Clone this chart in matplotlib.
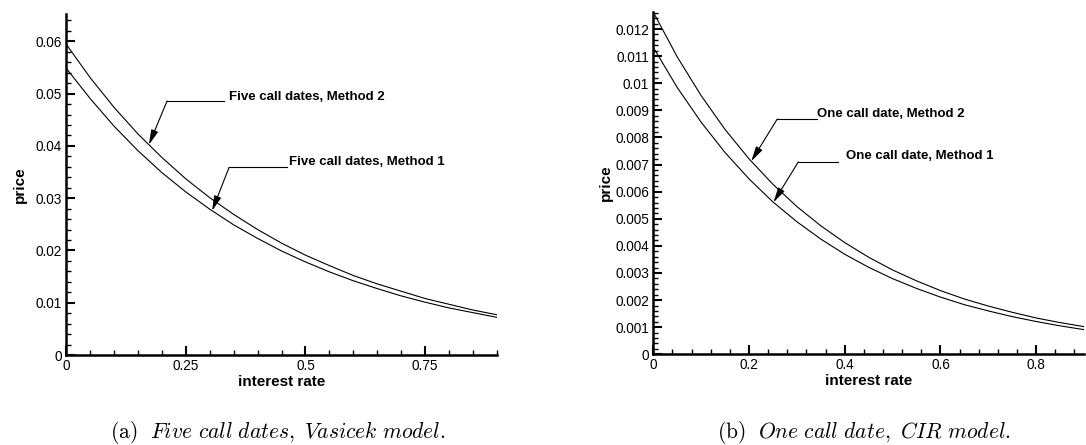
import numpy as np
import matplotlib
matplotlib.use("Agg")
import matplotlib.pyplot as plt
from matplotlib.ticker import MultipleLocator, FormatStrFormatter

plt.rcParams['font.family'] = ['Liberation Sans', 'DejaVu Sans']
plt.rcParams['mathtext.fontset'] = 'cm'

# interest rate grid
rate = [0, 0.05, 0.1, 0.15, 0.2, 0.25, 0.3, 0.35, 0.4, 0.45,
        0.5, 0.55, 0.6, 0.65, 0.7, 0.75, 0.8, 0.85, 0.9]

# (a) five call dates, Vasicek model
vas_m2 = [0.0595, 0.0531, 0.0474, 0.0423, 0.0378, 0.0337, 0.0301, 0.0269, 0.0240, 0.0214,
          0.0191, 0.0171, 0.0152, 0.0136, 0.0122, 0.0108, 0.0097, 0.0086, 0.0077]
vas_m1 = [0.0549, 0.0491, 0.0438, 0.0391, 0.0349, 0.0312, 0.0279, 0.0249, 0.0223, 0.0199,
          0.0178, 0.0159, 0.0142, 0.0127, 0.0113, 0.0101, 0.0090, 0.0081, 0.0072]

# (b) one call date, CIR model
cir_m2 = [0.01262, 0.01097, 0.00954, 0.00829, 0.00721, 0.00627, 0.00545, 0.00474, 0.00412, 0.00358,
          0.00311, 0.00271, 0.00235, 0.00204, 0.00178, 0.00155, 0.00134, 0.00117, 0.00102]
cir_m1 = [0.01132, 0.00984, 0.00856, 0.00744, 0.00647, 0.00562, 0.00489, 0.00425, 0.00369, 0.00321,
          0.00279, 0.00243, 0.00211, 0.00183, 0.00160, 0.00139, 0.00121, 0.00105, 0.00091]

labels_a = ['Five call dates, Method 2', 'Five call dates, Method 1']
labels_b = ['One call date, Method 2', 'One call date, Method 1']
captions = [r'$\mathrm{(a)}\ \ Five\ call\ dates,\ Vasicek\ model.$',
            r'$\mathrm{(b)}\ \ One\ call\ date,\ CIR\ model.$']

fig = plt.figure(figsize=(10.86, 4.45), dpi=100)
ax1 = fig.add_axes([0.0608, 0.2022, 0.3969, 0.766])
ax2 = fig.add_axes([0.6016, 0.2038, 0.3966, 0.770])


def style(ax, ymax, xmaj, xmin, ymaj, ymin, ylabelpad):
    ax.set_xlim(0, 0.9)
    ax.set_ylim(0, ymax)
    for s in ['top', 'right']:
        ax.spines[s].set_visible(False)
    for s in ['left', 'bottom']:
        ax.spines[s].set_linewidth(1.8)
    ax.xaxis.set_major_locator(MultipleLocator(xmaj))
    ax.xaxis.set_minor_locator(MultipleLocator(xmin))
    ax.yaxis.set_major_locator(MultipleLocator(ymaj))
    ax.yaxis.set_minor_locator(MultipleLocator(ymin))
    ax.xaxis.set_major_formatter(FormatStrFormatter('%g'))
    ax.yaxis.set_major_formatter(FormatStrFormatter('%g'))
    ax.tick_params(which='major', direction='in', length=6.5, width=1.5, labelsize=9.8, pad=3)
    ax.tick_params(which='minor', direction='in', length=3.6, width=1.0)
    ax.set_xlabel('interest rate', fontsize=11, fontweight='bold', labelpad=1)
    ax.set_ylabel('price', fontsize=11, fontweight='bold', labelpad=ylabelpad)


def callout(ax, text, xs, ys, tip_x, elbow, line_end, text_pos):
    tip = (tip_x, np.interp(tip_x, xs, ys))
    ax.plot([elbow[0], line_end], [elbow[1], elbow[1]], color='black', lw=0.8)
    ax.annotate('', xy=tip, xytext=elbow,
                arrowprops=dict(arrowstyle='-|>,head_length=0.9,head_width=0.22',
                                color='black', lw=0.8, shrinkA=0, shrinkB=0))
    ax.text(text_pos[0], text_pos[1], text, fontsize=9.5, fontweight='bold',
            ha='left', va='center')


# panel (a)
ax1.plot(rate, vas_m2, color='black', lw=0.8)
ax1.plot(rate, vas_m1, color='black', lw=0.8)
style(ax1, 0.0652, 0.25, 0.05, 0.01, 0.002, 6)
callout(ax1, labels_a[0], rate, vas_m2, 0.173, (0.211, 0.0486), 0.330, (0.3405, 0.0493))
callout(ax1, labels_a[1], rate, vas_m1, 0.305, (0.3405, 0.0359), 0.4616, (0.466, 0.0369))

# panel (b)
ax2.plot(rate, cir_m2, color='black', lw=0.8)
ax2.plot(rate, cir_m1, color='black', lw=0.8)
style(ax2, 0.01264, 0.2, 0.04, 0.001, 0.0002, 2)
callout(ax2, labels_b[0], rate, cir_m2, 0.2046, (0.259, 0.00868), 0.343, (0.3428, 0.00887))
callout(ax2, labels_b[1], rate, cir_m1, 0.251, (0.303, 0.0071), 0.3868, (0.4033, 0.00732))

fig.text(0.256, 0.027, captions[0], fontsize=15.5, ha='center', va='center')
fig.text(0.7956, 0.027, captions[1], fontsize=15.5, ha='center', va='center')

fig.savefig('out.png', dpi=100)
